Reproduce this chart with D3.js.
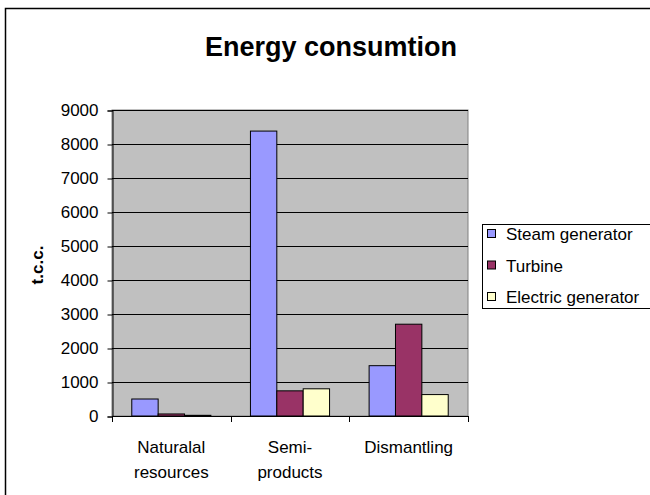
<!DOCTYPE html>
<html>
<head>
<meta charset="utf-8">
<script src="https://cdn.jsdelivr.net/npm/d3@7"></script>
<style>
  html, body { margin: 0; padding: 0; background: #fff; }
  svg { display: block; }
  text { font-family: "Liberation Sans", Arial, sans-serif; fill: #000; }
</style>
</head>
<body>
<svg id="chart" width="650" height="495"></svg>
<script>
// Energy use per life-cycle stage, in tonnes of conventional coal (t.c.c.)
const categories = [["Naturalal", "resources"], ["Semi-", "products"], ["Dismantling"]];
const seriesNames = ["Steam generator", "Turbine", "Electric generator"];
const steamGenerator = [500, 8380, 1480];
const turbine = [60, 740, 2700];
const electricGenerator = [20, 800, 630];
const yTicks = [0, 1000, 2000, 3000, 4000, 5000, 6000, 7000, 8000, 9000];

const seriesValues = [steamGenerator, turbine, electricGenerator];
const colors = ["#9999FF", "#993366", "#FFFFCC"];

const svg = d3.select("#chart");

// Chart frame
svg.append("rect")
  .attr("x", 5.5).attr("y", 8.5)
  .attr("width", 700).attr("height", 600)
  .attr("fill", "#fff").attr("stroke", "#000").attr("stroke-width", 1.5);

// Title
svg.append("text")
  .attr("x", 331).attr("y", 56)
  .attr("text-anchor", "middle")
  .attr("font-size", 27).attr("font-weight", "bold")
  .text("Energy consumtion");

const plot = { left: 112, right: 468, top: 110, bottom: 416 };
const catKeys = categories.map((c, i) => i);

const x0 = d3.scaleBand().domain(catKeys).range([plot.left, plot.right]).padding(0);
const x1 = d3.scaleBand().domain(seriesNames).range([0, x0.bandwidth()])
  .paddingInner(0).paddingOuter(0.75);
const y = d3.scaleLinear().domain([0, 9000]).range([plot.bottom, plot.top]);

// Plot area background
svg.append("rect")
  .attr("x", plot.left).attr("y", plot.top)
  .attr("width", plot.right - plot.left).attr("height", plot.bottom - plot.top)
  .attr("fill", "#C0C0C0").attr("stroke", "#808080").attr("stroke-width", 1);

// Horizontal gridlines
svg.append("g")
  .selectAll("line")
  .data(yTicks.filter(d => d > 0))
  .join("line")
  .attr("x1", plot.left).attr("x2", plot.right)
  .attr("y1", d => Math.round(y(d)) + 0.5).attr("y2", d => Math.round(y(d)) + 0.5)
  .attr("stroke", "#000").attr("stroke-width", 1);

// Bars
const groups = svg.append("g")
  .selectAll("g")
  .data(catKeys)
  .join("g")
  .attr("transform", d => `translate(${x0(d)},0)`);

groups.selectAll("rect")
  .data(ci => seriesNames.map((s, si) => ({ s, si, v: seriesValues[si][ci] })))
  .join("rect")
  .attr("x", d => x1(d.s))
  .attr("width", x1.bandwidth())
  .attr("y", d => y(d.v))
  .attr("height", d => y(0) - y(d.v))
  .attr("fill", d => colors[d.si])
  .attr("stroke", "#000").attr("stroke-width", 1);

// Y axis
const yAxis = svg.append("g")
  .attr("transform", `translate(${plot.left + 0.5},0.5)`)
  .call(d3.axisLeft(y).tickValues(yTicks).tickSize(5).tickPadding(9).tickFormat(d3.format("d")));
yAxis.select(".domain").attr("stroke", "#000");
yAxis.selectAll(".tick line").attr("stroke", "#000");
yAxis.selectAll(".tick text")
  .attr("font-family", "'Liberation Sans', Arial, sans-serif")
  .attr("font-size", 17).attr("fill", "#000");

// X axis: ticks sit between categories
const xBoundaries = [plot.left, ...catKeys.map(k => x0(k) + x0.bandwidth())];
const xAxis = svg.append("g");
xAxis.append("line")
  .attr("x1", plot.left).attr("x2", plot.right)
  .attr("y1", plot.bottom + 0.5).attr("y2", plot.bottom + 0.5)
  .attr("stroke", "#000");
xAxis.selectAll("line.tick")
  .data(xBoundaries)
  .join("line")
  .attr("class", "tick")
  .attr("x1", d => Math.round(d) + 0.5).attr("x2", d => Math.round(d) + 0.5)
  .attr("y1", plot.bottom).attr("y2", plot.bottom + 6)
  .attr("stroke", "#000");

const catLabels = xAxis.selectAll("text.cat")
  .data(catKeys)
  .join("text")
  .attr("class", "cat")
  .attr("text-anchor", "middle")
  .attr("font-size", 17)
  .attr("x", d => x0(d) + x0.bandwidth() / 2)
  .attr("y", 453);
catLabels.selectAll("tspan")
  .data(d => categories[d].map(line => ({ line, x: x0(d) + x0.bandwidth() / 2 })))
  .join("tspan")
  .attr("x", d => d.x)
  .attr("dy", (d, i) => i === 0 ? 0 : 25)
  .text(d => d.line);

// Y axis title
svg.append("text")
  .attr("transform", "translate(43,265) rotate(-90)")
  .attr("text-anchor", "middle")
  .attr("font-size", 17).attr("font-weight", "bold")
  .text("t.c.c.");

// Legend
const legend = svg.append("g");
legend.append("rect")
  .attr("x", 482.5).attr("y", 224.5)
  .attr("width", 300).attr("height", 84)
  .attr("fill", "#fff").attr("stroke", "#000").attr("stroke-width", 1);

const items = legend.selectAll("g.item")
  .data(seriesNames)
  .join("g")
  .attr("class", "item")
  .attr("transform", (d, i) => `translate(0,${234 + i * 31.5})`);
items.append("rect")
  .attr("x", 487.5).attr("y", -4.5)
  .attr("width", 8).attr("height", 8)
  .attr("fill", (d, i) => colors[i])
  .attr("stroke", "#000").attr("stroke-width", 1);
items.append("text")
  .attr("x", 506).attr("y", 6)
  .attr("font-size", 17)
  .text(d => d);
</script>
</body>
</html>
